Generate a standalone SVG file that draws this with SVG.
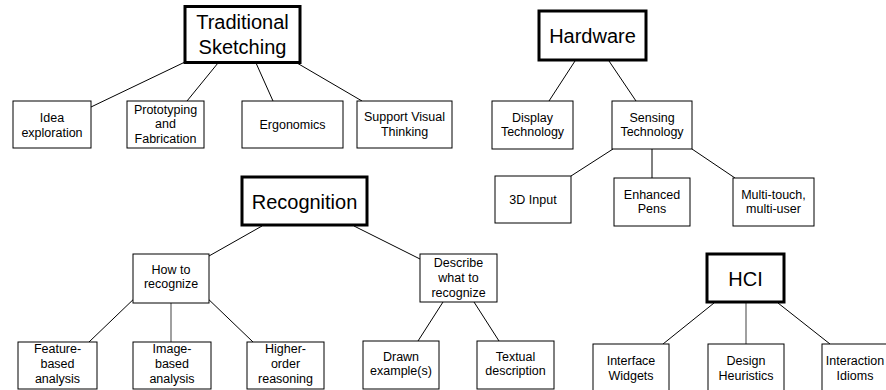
<svg xmlns="http://www.w3.org/2000/svg" width="886" height="390" viewBox="0 0 886 390">
<style>
.bg{fill:#fff}
.main{fill:#fff;stroke:#000;stroke-width:3}
.box{fill:#fff;stroke:#000;stroke-width:1}
.big{font-family:"Liberation Sans",Arial,sans-serif;font-size:20px;fill:#000;text-anchor:middle}
.sm{font-family:"Liberation Sans",Arial,sans-serif;font-size:12.5px;fill:#000;text-anchor:middle}
.c line{stroke:#000;stroke-width:1}
.c line.g{stroke:#808080;stroke-width:1.5}
</style>
<rect class="bg" x="0" y="0" width="886" height="390"/>
<g id="connectors" class="c">
<line x1="91" y1="107" x2="185" y2="62"/>
<line x1="187" y1="101" x2="218" y2="63"/>
<line x1="273" y1="101" x2="256" y2="63"/>
<line x1="362" y1="101" x2="297" y2="63"/>
<line x1="575" y1="61" x2="549" y2="101"/>
<line x1="609" y1="61" x2="636" y2="101"/>
<line x1="613" y1="149" x2="571" y2="176"/>
<line x1="652" y1="149" x2="652" y2="178"/>
<line x1="692" y1="149" x2="735" y2="178"/>
<line x1="262" y1="226" x2="209" y2="256"/>
<line x1="354" y1="226" x2="420" y2="259"/>
<line x1="139" y1="294" x2="89" y2="342"/>
<line class="g" x1="171" y1="303" x2="171" y2="342"/>
<line x1="203" y1="294" x2="253" y2="342"/>
<line x1="443" y1="302" x2="418" y2="341"/>
<line x1="474" y1="302" x2="499" y2="341"/>
<line x1="714" y1="303" x2="663" y2="344"/>
<line class="g" x1="746" y1="303" x2="746" y2="344"/>
<line x1="778" y1="303" x2="830" y2="344"/>
</g>
<g id="traditional-sketching"><rect class="main" x="185" y="6.5" width="115" height="56"/><text class="big" x="242.5" y="29">Traditional</text><text class="big" x="242.5" y="54">Sketching</text></g>
<g id="idea-exploration"><rect class="box" x="13" y="101" width="78" height="47"/><text class="sm" x="52" y="122">Idea</text><text class="sm" x="52" y="136.5">exploration</text></g>
<g id="prototyping"><rect class="box" x="127" y="101" width="77" height="47"/><text class="sm" x="165.5" y="113.5">Prototyping</text><text class="sm" x="165.5" y="128">and</text><text class="sm" x="165.5" y="142.5">Fabrication</text></g>
<g id="ergonomics"><rect class="box" x="242" y="101" width="101" height="47"/><text class="sm" x="292.5" y="129">Ergonomics</text></g>
<g id="support-visual-thinking"><rect class="box" x="357" y="101" width="95" height="47"/><text class="sm" x="404.5" y="121">Support Visual</text><text class="sm" x="404.5" y="135.5">Thinking</text></g>
<g id="hardware"><rect class="main" x="539" y="11" width="107" height="49"/><text class="big" x="592.5" y="43">Hardware</text></g>
<g id="display-technology"><rect class="box" x="492" y="101" width="81" height="48"/><text class="sm" x="532.5" y="121.5">Display</text><text class="sm" x="532.5" y="136">Technology</text></g>
<g id="sensing-technology"><rect class="box" x="612" y="101" width="80" height="48"/><text class="sm" x="652" y="121.5">Sensing</text><text class="sm" x="652" y="136">Technology</text></g>
<g id="input-3d"><rect class="box" x="495" y="176" width="76" height="47"/><text class="sm" x="533" y="204">3D Input</text></g>
<g id="enhanced-pens"><rect class="box" x="614" y="178" width="76" height="48"/><text class="sm" x="652" y="198.5">Enhanced</text><text class="sm" x="652" y="213">Pens</text></g>
<g id="multi-touch"><rect class="box" x="733" y="178" width="81" height="48"/><text class="sm" x="773.5" y="198.5">Multi-touch,</text><text class="sm" x="773.5" y="213">multi-user</text></g>
<g id="recognition"><rect class="main" x="242" y="177" width="125" height="48"/><text class="big" x="304.5" y="209">Recognition</text></g>
<g id="how-to-recognize"><rect class="box" x="133" y="254" width="76" height="49"/><text class="sm" x="171" y="273.5">How to</text><text class="sm" x="171" y="288">recognize</text></g>
<g id="feature-based"><rect class="box" x="18" y="342" width="79" height="47"/><text class="sm" x="57.5" y="353">Feature-</text><text class="sm" x="57.5" y="368">based</text><text class="sm" x="57.5" y="383">analysis</text></g>
<g id="image-based"><rect class="box" x="133" y="342" width="78" height="47"/><text class="sm" x="172" y="353">Image-</text><text class="sm" x="172" y="368">based</text><text class="sm" x="172" y="383">analysis</text></g>
<g id="higher-order"><rect class="box" x="247" y="342" width="77" height="47"/><text class="sm" x="285.5" y="353">Higher-</text><text class="sm" x="285.5" y="368">order</text><text class="sm" x="285.5" y="383">reasoning</text></g>
<g id="describe"><rect class="box" x="420" y="254" width="77" height="48"/><text class="sm" x="458.5" y="267">Describe</text><text class="sm" x="458.5" y="282">what to</text><text class="sm" x="458.5" y="297">recognize</text></g>
<g id="drawn-examples"><rect class="box" x="363" y="341" width="76" height="48"/><text class="sm" x="401" y="360.5">Drawn</text><text class="sm" x="401" y="375">example(s)</text></g>
<g id="textual-description"><rect class="box" x="477" y="341" width="77" height="48"/><text class="sm" x="515.5" y="360.5">Textual</text><text class="sm" x="515.5" y="375">description</text></g>
<g id="hci"><rect class="main" x="707" y="254" width="77" height="48"/><text class="big" x="745.5" y="286">HCI</text></g>
<g id="interface-widgets"><rect class="box" x="593" y="344" width="76" height="48"/><text class="sm" x="631" y="365">Interface</text><text class="sm" x="631" y="380">Widgets</text></g>
<g id="design-heuristics"><rect class="box" x="708" y="344" width="76" height="48"/><text class="sm" x="746" y="365">Design</text><text class="sm" x="746" y="380">Heuristics</text></g>
<g id="interaction-idioms"><rect class="box" x="822" y="344" width="66" height="48"/><text class="sm" x="855" y="365">Interaction</text><text class="sm" x="855" y="380">Idioms</text></g>
</svg>
